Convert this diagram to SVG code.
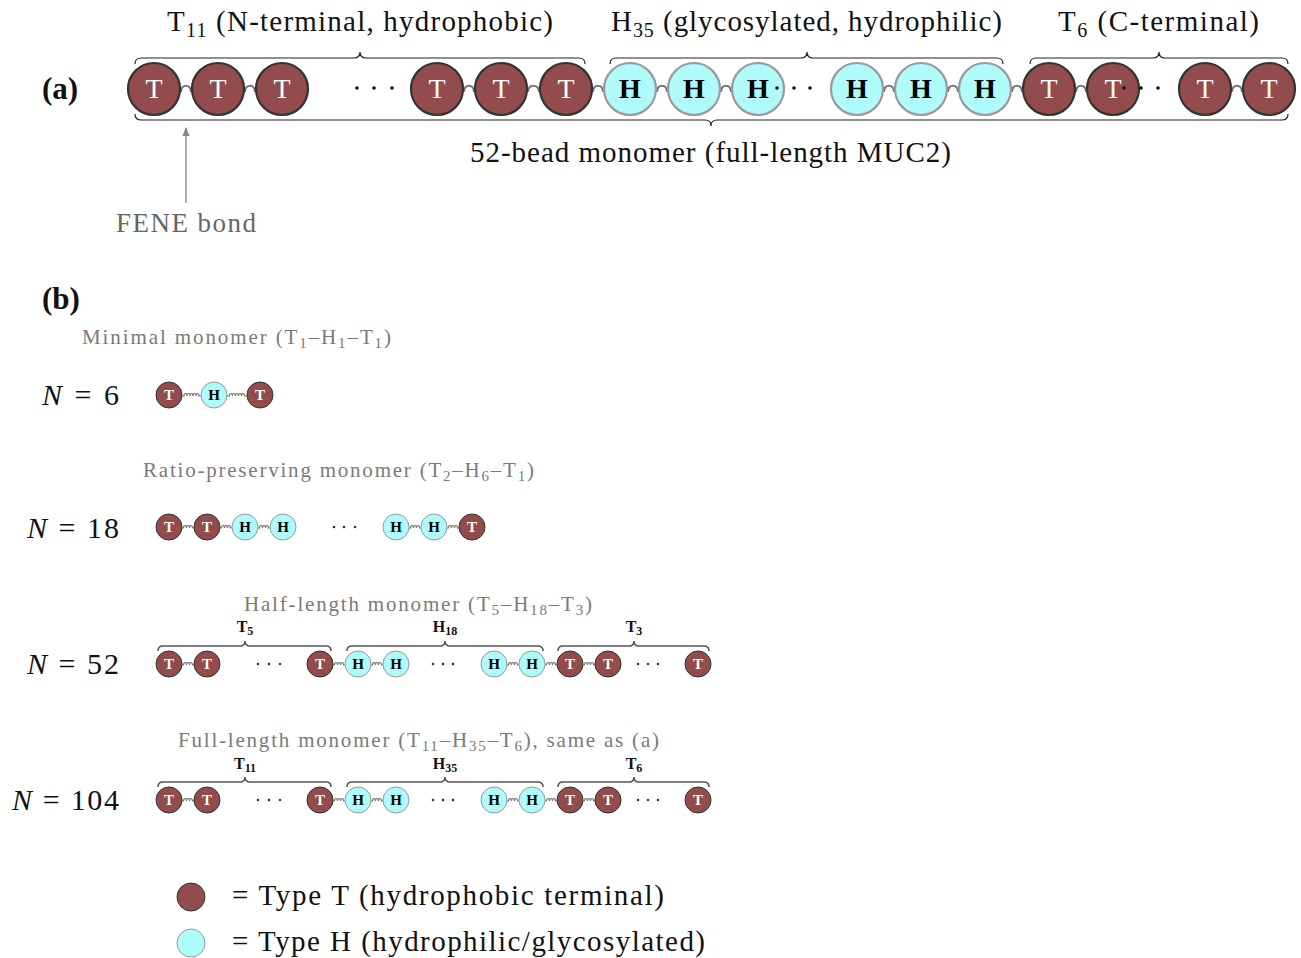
<svg xmlns="http://www.w3.org/2000/svg" width="1301" height="958" viewBox="0 0 1301 958">
<style>
text{font-family:"Liberation Serif","Times New Roman",serif;}
.lbl{font-size:29px;fill:#111;}
.gl{font-size:21px;fill:#7a7a7a;}
.bl{font-size:16px;fill:#111;font-weight:bold;}
.pan{font-size:31px;font-weight:bold;fill:#111;}
.nl{font-size:30px;fill:#111;}
.TA{fill:#924c4c;stroke:#333;stroke-width:2.2;}
.HA{fill:#affafa;stroke:#9a9a9a;stroke-width:2.2;}
.Tb{fill:#924c4c;stroke:#333;stroke-width:1;}
.Hb{fill:#affafa;stroke:#999;stroke-width:1;}
.tA{font-size:28px;fill:#fff;text-anchor:middle;}
.hA{font-size:28px;fill:#000;font-weight:bold;text-anchor:middle;}
.tb{font-size:15px;fill:#fff;font-weight:bold;text-anchor:middle;}
.hb{font-size:15px;fill:#000;font-weight:bold;text-anchor:middle;}
.sA{fill:none;stroke:#777;stroke-width:2.2;}
.sb{fill:none;stroke:#777;stroke-width:1.2;}
.brA{fill:none;stroke:#222;stroke-width:1.2;}
.brb{fill:none;stroke:#555;stroke-width:1.6;}
.dot{fill:#111;}
.ddot{fill:#333;}
</style>
<defs>
<marker id="arr" viewBox="0 0 10 10" refX="9" refY="5" markerWidth="7" markerHeight="7" orient="auto">
<path d="M0,1 L10,5 L0,9 Z" fill="#888"/>
</marker>
</defs>

<!-- Panel (a) -->
<text class="pan" x="42" y="99">(a)</text>
<text class="lbl" x="167" y="31" textLength="386">T<tspan font-size="20" dy="6">11</tspan><tspan dy="-6"> (N-terminal, hydrophobic)</tspan></text>
<text class="lbl" x="611" y="31" textLength="391">H<tspan font-size="20" dy="6">35</tspan><tspan dy="-6"> (glycosylated, hydrophilic)</tspan></text>
<text class="lbl" x="1058" y="31" textLength="201">T<tspan font-size="20" dy="6">6</tspan><tspan dy="-6"> (C-terminal)</tspan></text>
<text class="lbl" x="470" y="162" textLength="481">52-bead monomer (full-length MUC2)</text>

<g id="connectors">
<g id="braces-a">
<path class="brA" d="M135,64 Q135,58 141,58 L354,58 Q360,58 360,52 Q360,58 366,58 L579,58 Q585,58 585,64"/>
<path class="brA" d="M610,64 Q610,58 616,58 L801,58 Q807,58 807,52 Q807,58 813,58 L997,58 Q1003,58 1003,64"/>
<path class="brA" d="M1030,64 Q1030,58 1036,58 L1153,58 Q1159,58 1159,52 Q1159,58 1165,58 L1282,58 Q1288,58 1288,64"/>
<path class="brA" d="M135,114 Q135,120 141,120 L705,120 Q711,120 711,126 Q711,120 717,120 L1282,120 Q1288,120 1288,114"/>
</g>
<g id="springs-a">
<path class="sA" d="M180,91 h1 c1,-7 9,-7 10,0 h1"/>
<path class="sA" d="M244,91 h1 c1,-7 9,-7 10,0 h1"/>
<path class="sA" d="M463,91 h1 c1,-7 9,-7 10,0 h1"/>
<path class="sA" d="M527,91 h1 c1,-7 10,-7 11,0 h1"/>
<path class="sA" d="M592,91 h1 c1,-7 9,-7 10,0 h1"/>
<path class="sA" d="M656,91 h1 c1,-7 9,-7 10,0 h1"/>
<path class="sA" d="M720,91 h1 c1,-7 9,-7 10,0 h1"/>
<path class="sA" d="M883,91 h1 c1,-7 9,-7 10,0 h1"/>
<path class="sA" d="M947,91 h1 c1,-7 9,-7 10,0 h1"/>
<path class="sA" d="M1011,91 h1 c1,-7 9,-7 10,0 h1"/>
<path class="sA" d="M1075,91 h1 c1,-7 9,-7 10,0 h1"/>
<path class="sA" d="M1231,91 h1 c1,-7 9,-7 10,0 h1"/>
</g>
<g id="fene-arrow">
<line x1="186" y1="203" x2="186" y2="128" stroke="#888" stroke-width="1.3" marker-end="url(#arr)"/>
</g>
<g id="springs-b">
<path class="sb" d="M182,396 h2 a1.5,2.5 0 0 1 3,0 a1.5,2.5 0 0 1 3,0 a1.5,2.5 0 0 1 3,0 a1.5,2.5 0 0 1 3,0 a1.5,2.5 0 0 1 3,0 h2"/>
<path class="sb" d="M227,396 h2.5 a1.5,2.5 0 0 1 3,0 a1.5,2.5 0 0 1 3,0 a1.5,2.5 0 0 1 3,0 a1.5,2.5 0 0 1 3,0 a1.5,2.5 0 0 1 3,0 h2.5"/>

<path class="sb" d="M182,528 h1.5 a1.5,2.5 0 0 1 3,0 a1.5,2.5 0 0 1 3,0 a1.5,2.5 0 0 1 3,0 h1.5"/>
<path class="sb" d="M220,528 h1.5 a1.5,2.5 0 0 1 3,0 a1.5,2.5 0 0 1 3,0 a1.5,2.5 0 0 1 3,0 h1.5"/>
<path class="sb" d="M258,528 h1.5 a1.5,2.5 0 0 1 3,0 a1.5,2.5 0 0 1 3,0 a1.5,2.5 0 0 1 3,0 h1.5"/>
<path class="sb" d="M409,528 h1.5 a1.5,2.5 0 0 1 3,0 a1.5,2.5 0 0 1 3,0 a1.5,2.5 0 0 1 3,0 h1.5"/>
<path class="sb" d="M447,528 h1.5 a1.5,2.5 0 0 1 3,0 a1.5,2.5 0 0 1 3,0 a1.5,2.5 0 0 1 3,0 h1.5"/>

<path class="sb" d="M182,665 h1.5 a1.5,2.5 0 0 1 3,0 a1.5,2.5 0 0 1 3,0 a1.5,2.5 0 0 1 3,0 h1.5"/>
<path class="sb" d="M333,665 h1.5 a1.5,2.5 0 0 1 3,0 a1.5,2.5 0 0 1 3,0 a1.5,2.5 0 0 1 3,0 h1.5"/>
<path class="sb" d="M371,665 h1.5 a1.5,2.5 0 0 1 3,0 a1.5,2.5 0 0 1 3,0 a1.5,2.5 0 0 1 3,0 h1.5"/>
<path class="sb" d="M507,665 h1.5 a1.5,2.5 0 0 1 3,0 a1.5,2.5 0 0 1 3,0 a1.5,2.5 0 0 1 3,0 h1.5"/>
<path class="sb" d="M545,665 h1.5 a1.5,2.5 0 0 1 3,0 a1.5,2.5 0 0 1 3,0 a1.5,2.5 0 0 1 3,0 h1.5"/>
<path class="sb" d="M583,665 h1.5 a1.5,2.5 0 0 1 3,0 a1.5,2.5 0 0 1 3,0 a1.5,2.5 0 0 1 3,0 h1.5"/>

<path class="sb" d="M182,801 h1.5 a1.5,2.5 0 0 1 3,0 a1.5,2.5 0 0 1 3,0 a1.5,2.5 0 0 1 3,0 h1.5"/>
<path class="sb" d="M333,801 h1.5 a1.5,2.5 0 0 1 3,0 a1.5,2.5 0 0 1 3,0 a1.5,2.5 0 0 1 3,0 h1.5"/>
<path class="sb" d="M371,801 h1.5 a1.5,2.5 0 0 1 3,0 a1.5,2.5 0 0 1 3,0 a1.5,2.5 0 0 1 3,0 h1.5"/>
<path class="sb" d="M507,801 h1.5 a1.5,2.5 0 0 1 3,0 a1.5,2.5 0 0 1 3,0 a1.5,2.5 0 0 1 3,0 h1.5"/>
<path class="sb" d="M545,801 h1.5 a1.5,2.5 0 0 1 3,0 a1.5,2.5 0 0 1 3,0 a1.5,2.5 0 0 1 3,0 h1.5"/>
<path class="sb" d="M583,801 h1.5 a1.5,2.5 0 0 1 3,0 a1.5,2.5 0 0 1 3,0 a1.5,2.5 0 0 1 3,0 h1.5"/>
</g>
<g id="braces-b">
<path class="brb" d="M158,651 Q158,646 163,646 L240,646 Q245,646 245,641 Q245,646 250,646 L326,646 Q331,646 331,651"/>
<path class="brb" d="M347,651 Q347,646 352,646 L440,646 Q445,646 445,641 Q445,646 450,646 L538,646 Q543,646 543,651"/>
<path class="brb" d="M558,651 Q558,646 563,646 L629,646 Q634,646 634,641 Q634,646 639,646 L704,646 Q709,646 709,651"/>
<path class="brb" d="M158,787 Q158,782 163,782 L240,782 Q245,782 245,777 Q245,782 250,782 L326,782 Q331,782 331,787"/>
<path class="brb" d="M347,787 Q347,782 352,782 L440,782 Q445,782 445,777 Q445,782 450,782 L538,782 Q543,782 543,787"/>
<path class="brb" d="M558,787 Q558,782 563,782 L629,782 Q634,782 634,777 Q634,782 639,782 L704,782 Q709,782 709,787"/>
</g>
</g>

<g id="chain-a">
<g id="a-t1"><circle class="TA" cx="154" cy="89" r="26"/><text class="tA" x="154" y="98">T</text></g>
<g id="a-t2"><circle class="TA" cx="218" cy="89" r="26"/><text class="tA" x="218" y="98">T</text></g>
<g id="a-t3"><circle class="TA" cx="282" cy="89" r="26"/><text class="tA" x="282" y="98">T</text></g>
<g id="a-t9"><circle class="TA" cx="437" cy="89" r="26"/><text class="tA" x="437" y="98">T</text></g>
<g id="a-t10"><circle class="TA" cx="501" cy="89" r="26"/><text class="tA" x="501" y="98">T</text></g>
<g id="a-t11"><circle class="TA" cx="566" cy="89" r="26"/><text class="tA" x="566" y="98">T</text></g>
<g id="a-h1"><circle class="HA" cx="630" cy="89" r="26"/><text class="hA" x="630" y="98">H</text></g>
<g id="a-h2"><circle class="HA" cx="694" cy="89" r="26"/><text class="hA" x="694" y="98">H</text></g>
<g id="a-h3"><circle class="HA" cx="758" cy="89" r="26"/><text class="hA" x="758" y="98">H</text></g>
<g id="a-h33"><circle class="HA" cx="857" cy="89" r="26"/><text class="hA" x="857" y="98">H</text></g>
<g id="a-h34"><circle class="HA" cx="921" cy="89" r="26"/><text class="hA" x="921" y="98">H</text></g>
<g id="a-h35"><circle class="HA" cx="985" cy="89" r="26"/><text class="hA" x="985" y="98">H</text></g>
<g id="a-c1"><circle class="TA" cx="1049" cy="89" r="26"/><text class="tA" x="1049" y="98">T</text></g>
<g id="a-c2"><circle class="TA" cx="1113" cy="89" r="26"/><text class="tA" x="1113" y="98">T</text></g>
<g id="a-c5"><circle class="TA" cx="1205" cy="89" r="26"/><text class="tA" x="1205" y="98">T</text></g>
<g id="a-c6"><circle class="TA" cx="1269" cy="89" r="26"/><text class="tA" x="1269" y="98">T</text></g>
<g id="a-dots">
<circle class="dot" cx="357" cy="88" r="1.8"/><circle class="dot" cx="374" cy="88" r="1.8"/><circle class="dot" cx="392" cy="88" r="1.8"/>
<circle class="dot" cx="777" cy="88" r="1.8"/><circle class="dot" cx="794" cy="88" r="1.8"/><circle class="dot" cx="810" cy="88" r="1.8"/>
<circle class="dot" cx="1124" cy="88" r="1.8"/><circle class="dot" cx="1141" cy="88" r="1.8"/><circle class="dot" cx="1158" cy="88" r="1.8"/>
</g>
</g>
<text x="116" y="232" font-size="27" fill="#666" textLength="140">FENE bond</text>

<!-- Panel (b) -->
<text class="pan" x="42" y="309">(b)</text>

<g id="row-n6">
<text class="gl" x="82" y="344" textLength="309">Minimal monomer (T<tspan font-size="15" dy="4">1</tspan><tspan dy="-4">–H</tspan><tspan font-size="15" dy="4">1</tspan><tspan dy="-4">–T</tspan><tspan font-size="15" dy="4">1</tspan><tspan dy="-4">)</tspan></text>
<text class="nl" x="42" y="405" textLength="77"><tspan font-style="italic">N</tspan> = 6</text>
<g id="n6-b1"><circle class="Tb" cx="169" cy="395" r="13"/><text class="tb" x="169" y="400">T</text></g>
<g id="n6-b2"><circle class="Hb" cx="214" cy="395" r="13"/><text class="hb" x="214" y="400">H</text></g>
<g id="n6-b3"><circle class="Tb" cx="260" cy="395" r="13"/><text class="tb" x="260" y="400">T</text></g>
</g>

<g id="row-n18">
<text class="gl" x="143" y="477" textLength="391">Ratio-preserving monomer (T<tspan font-size="15" dy="4">2</tspan><tspan dy="-4">–H</tspan><tspan font-size="15" dy="4">6</tspan><tspan dy="-4">–T</tspan><tspan font-size="15" dy="4">1</tspan><tspan dy="-4">)</tspan></text>
<text class="nl" x="27" y="538" textLength="92"><tspan font-style="italic">N</tspan> = 18</text>
<g id="n18-b1"><circle class="Tb" cx="169" cy="527" r="13"/><text class="tb" x="169" y="532">T</text></g>
<g id="n18-b2"><circle class="Tb" cx="207" cy="527" r="13"/><text class="tb" x="207" y="532">T</text></g>
<g id="n18-b3"><circle class="Hb" cx="245" cy="527" r="13"/><text class="hb" x="245" y="532">H</text></g>
<g id="n18-b4"><circle class="Hb" cx="283" cy="527" r="13"/><text class="hb" x="283" y="532">H</text></g>
<g id="n18-b7"><circle class="Hb" cx="396" cy="527" r="13"/><text class="hb" x="396" y="532">H</text></g>
<g id="n18-b8"><circle class="Hb" cx="434" cy="527" r="13"/><text class="hb" x="434" y="532">H</text></g>
<g id="n18-b9"><circle class="Tb" cx="472" cy="527" r="13"/><text class="tb" x="472" y="532">T</text></g>
<circle class="ddot" cx="334" cy="527" r="1.3"/><circle class="ddot" cx="344" cy="527" r="1.3"/><circle class="ddot" cx="355" cy="527" r="1.3"/>
</g>

<g id="row-n52">
<text class="gl" x="244" y="611" textLength="348">Half-length monomer (T<tspan font-size="15" dy="4">5</tspan><tspan dy="-4">–H</tspan><tspan font-size="15" dy="4">18</tspan><tspan dy="-4">–T</tspan><tspan font-size="15" dy="4">3</tspan><tspan dy="-4">)</tspan></text>
<text class="bl" x="245" y="632" text-anchor="middle">T<tspan font-size="12" dy="3">5</tspan></text>
<text class="bl" x="445" y="632" text-anchor="middle">H<tspan font-size="12" dy="3">18</tspan></text>
<text class="bl" x="634" y="632" text-anchor="middle">T<tspan font-size="12" dy="3">3</tspan></text>
<text class="nl" x="27" y="674" textLength="92"><tspan font-style="italic">N</tspan> = 52</text>
<g id="n52-b1"><circle class="Tb" cx="169" cy="664" r="13"/><text class="tb" x="169" y="669">T</text></g>
<g id="n52-b2"><circle class="Tb" cx="207" cy="664" r="13"/><text class="tb" x="207" y="669">T</text></g>
<g id="n52-b5"><circle class="Tb" cx="320" cy="664" r="13"/><text class="tb" x="320" y="669">T</text></g>
<g id="n52-b6"><circle class="Hb" cx="358" cy="664" r="13"/><text class="hb" x="358" y="669">H</text></g>
<g id="n52-b7"><circle class="Hb" cx="396" cy="664" r="13"/><text class="hb" x="396" y="669">H</text></g>
<g id="n52-b22"><circle class="Hb" cx="494" cy="664" r="13"/><text class="hb" x="494" y="669">H</text></g>
<g id="n52-b23"><circle class="Hb" cx="532" cy="664" r="13"/><text class="hb" x="532" y="669">H</text></g>
<g id="n52-b24"><circle class="Tb" cx="570" cy="664" r="13"/><text class="tb" x="570" y="669">T</text></g>
<g id="n52-b25"><circle class="Tb" cx="608" cy="664" r="13"/><text class="tb" x="608" y="669">T</text></g>
<g id="n52-b26"><circle class="Tb" cx="698" cy="664" r="13"/><text class="tb" x="698" y="669">T</text></g>
<circle class="ddot" cx="258" cy="664" r="1.3"/><circle class="ddot" cx="269" cy="664" r="1.3"/><circle class="ddot" cx="280" cy="664" r="1.3"/>
<circle class="ddot" cx="433" cy="664" r="1.3"/><circle class="ddot" cx="443" cy="664" r="1.3"/><circle class="ddot" cx="453" cy="664" r="1.3"/>
<circle class="ddot" cx="638" cy="664" r="1.3"/><circle class="ddot" cx="648" cy="664" r="1.3"/><circle class="ddot" cx="658" cy="664" r="1.3"/>
</g>

<g id="row-n104">
<text class="gl" x="178" y="747" textLength="481">Full-length monomer (T<tspan font-size="15" dy="4">11</tspan><tspan dy="-4">–H</tspan><tspan font-size="15" dy="4">35</tspan><tspan dy="-4">–T</tspan><tspan font-size="15" dy="4">6</tspan><tspan dy="-4">), same as (a)</tspan></text>
<text class="bl" x="245" y="769" text-anchor="middle">T<tspan font-size="12" dy="3">11</tspan></text>
<text class="bl" x="445" y="769" text-anchor="middle">H<tspan font-size="12" dy="3">35</tspan></text>
<text class="bl" x="634" y="769" text-anchor="middle">T<tspan font-size="12" dy="3">6</tspan></text>
<text class="nl" x="12" y="810" textLength="107"><tspan font-style="italic">N</tspan> = 104</text>
<g id="n104-b1"><circle class="Tb" cx="169" cy="800" r="13"/><text class="tb" x="169" y="805">T</text></g>
<g id="n104-b2"><circle class="Tb" cx="207" cy="800" r="13"/><text class="tb" x="207" y="805">T</text></g>
<g id="n104-b11"><circle class="Tb" cx="320" cy="800" r="13"/><text class="tb" x="320" y="805">T</text></g>
<g id="n104-b12"><circle class="Hb" cx="358" cy="800" r="13"/><text class="hb" x="358" y="805">H</text></g>
<g id="n104-b13"><circle class="Hb" cx="396" cy="800" r="13"/><text class="hb" x="396" y="805">H</text></g>
<g id="n104-b45"><circle class="Hb" cx="494" cy="800" r="13"/><text class="hb" x="494" y="805">H</text></g>
<g id="n104-b46"><circle class="Hb" cx="532" cy="800" r="13"/><text class="hb" x="532" y="805">H</text></g>
<g id="n104-b47"><circle class="Tb" cx="570" cy="800" r="13"/><text class="tb" x="570" y="805">T</text></g>
<g id="n104-b48"><circle class="Tb" cx="608" cy="800" r="13"/><text class="tb" x="608" y="805">T</text></g>
<g id="n104-b52"><circle class="Tb" cx="698" cy="800" r="13"/><text class="tb" x="698" y="805">T</text></g>
<circle class="ddot" cx="258" cy="800" r="1.3"/><circle class="ddot" cx="269" cy="800" r="1.3"/><circle class="ddot" cx="280" cy="800" r="1.3"/>
<circle class="ddot" cx="433" cy="800" r="1.3"/><circle class="ddot" cx="443" cy="800" r="1.3"/><circle class="ddot" cx="453" cy="800" r="1.3"/>
<circle class="ddot" cx="638" cy="800" r="1.3"/><circle class="ddot" cx="648" cy="800" r="1.3"/><circle class="ddot" cx="658" cy="800" r="1.3"/>
</g>

<g id="legend">
<g id="legend-t"><circle class="Tb" cx="191" cy="897" r="14"/><text class="lbl" x="232" y="905" textLength="432">= Type T (hydrophobic terminal)</text></g>
<g id="legend-h"><circle class="Hb" cx="191" cy="943" r="14"/><text class="lbl" x="232" y="951" textLength="473">= Type H (hydrophilic/glycosylated)</text></g>
</g>
</svg>
